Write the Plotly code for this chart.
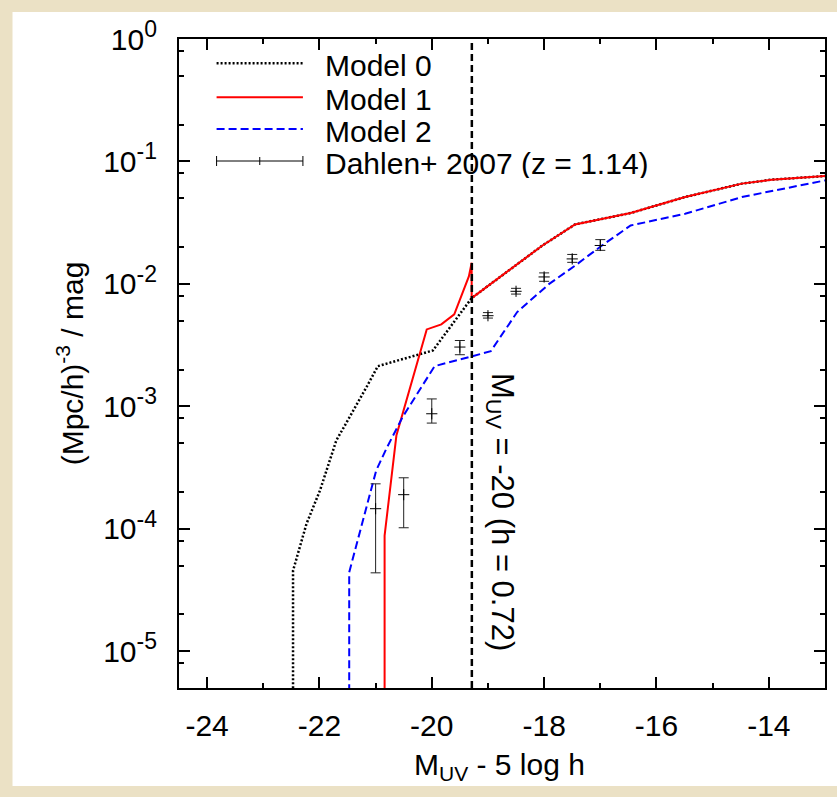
import math
import plotly.graph_objects as go

# ---- UV luminosity function data -------------------------------------------
# Model 0 (black dotted)
M0_X = [-22.47, -22.47, -22.23, -21.99, -21.70, -21.46, -21.16, -20.96, -19.98, -19.29,
        -19.29, -18.03, -17.45, -16.46, -15.49, -14.48, -13.95, -13.0]
M0_PHI = [1e-7, 4.55e-5, 1.10e-4, 2.06e-4, 5.26e-4, 8.17e-4, 1.44e-3, 2.13e-3, 2.86e-3, 7.66e-3,
          7.66e-3, 2.06e-2, 3.06e-2, 3.79e-2, 5.12e-2, 6.59e-2, 7.10e-2, 7.60e-2]

# Model 1 (red solid)
M1_X = [-20.84, -20.84, -20.63, -20.09, -19.83, -19.60, -19.34, -19.29,
        -19.29, -18.03, -17.45, -16.46, -15.49, -14.48, -13.95, -13.0]
M1_PHI = [1e-7, 8.8e-5, 5.78e-4, 4.25e-3, 4.67e-3, 5.64e-3, 1.15e-2, 1.49e-2,
          7.66e-3, 2.06e-2, 3.06e-2, 3.79e-2, 5.12e-2, 6.59e-2, 7.10e-2, 7.60e-2]

# Model 2 (blue dashed)
M2_X = [-21.47, -21.47, -20.99, -20.81, -20.52, -19.95, -19.29, -18.95, -18.48,
        -17.91, -17.44, -16.97, -16.46, -15.49, -14.48, -13.0]
M2_PHI = [1e-7, 4.42e-5, 2.99e-4, 4.5e-4, 8.17e-4, 2.13e-3, 2.56e-3, 2.82e-3, 5.89e-3,
          1.0e-2, 1.42e-2, 2.06e-2, 3.0e-2, 3.74e-2, 5.12e-2, 7.0e-2]

# Dahlen et al. 2007, z = 1.14
OBS_X = [-21.0, -20.5, -20.0, -19.5, -19.0, -18.5, -18.0, -17.5, -17.0]
OBS_PHI = [1.46e-4, 1.9e-4, 8.7e-4, 3.05e-3, 5.5e-3, 8.7e-3, 1.14e-2, 1.6e-2, 2.06e-2]
OBS_HI = [2.33e-4, 2.61e-4, 1.15e-3, 3.45e-3, 5.83e-3, 9.2e-3, 1.23e-2, 1.74e-2, 2.3e-2]
OBS_LO = [4.37e-5, 1.02e-4, 7.3e-4, 2.64e-3, 5.26e-3, 8.26e-3, 1.05e-2, 1.5e-2, 1.88e-2]

# Magnitude cut
M_UV_CUT = -20.0
H_LITTLE = 0.72
CUT_X = M_UV_CUT - 5 * math.log10(H_LITTLE)

# Axis ticks
X_TICKS = [-24, -22, -20, -18, -16, -14]
X_TICKTEXT = ["-24", "-22", "-20", "-18", "-16", "-14"]
X_MINOR = [-23, -21, -19, -17, -15]
Y_TICKS = [1e-5, 1e-4, 1e-3, 1e-2, 1e-1, 1]
Y_EXPONENTS = ["-5", "-4", "-3", "-2", "-1", "0"]
Y_MINOR = [m * 10.0 ** e for e in range(-6, 0) for m in (2, 5, 8)]

LEGEND_LABELS = ["Model 0", "Model 1", "Model 2", "Dahlen+ 2007 (z = 1.14)"]

FONT = "Liberation Sans, Arial, Helvetica, sans-serif"
W, H = 837, 797
L, R, T, B = 179, 10, 39, 109
PW, PH = W - L - R, H - T - B

Y_TICKTEXT = ["10<sup><span style='font-size:23px'>%s</span></sup>" % e for e in Y_EXPONENTS]


def px(xp):
    return (xp - L) / PW


def py(yp):
    return (H - B - yp) / PH


DOT = dict(color="black", width=2.5, dash="2px,2px")
RED = dict(color="#ff0000", width=2)
BLUE = dict(color="#0000ff", width=2, dash="8px,4px")

fig = go.Figure()

fig.add_trace(go.Scatter(x=M0_X, y=M0_PHI, mode="lines", line=DOT, showlegend=False))
fig.add_trace(go.Scatter(x=M1_X, y=M1_PHI, mode="lines", line=RED, showlegend=False))
fig.add_trace(go.Scatter(x=M2_X, y=M2_PHI, mode="lines", line=BLUE, showlegend=False))

plus = [h - v for h, v in zip(OBS_HI, OBS_PHI)]
minus = [v - l for l, v in zip(OBS_LO, OBS_PHI)]
fig.add_trace(go.Scatter(
    x=OBS_X, y=OBS_PHI, mode="markers",
    marker=dict(symbol="cross-thin", size=8, line=dict(color="black", width=1)),
    error_y=dict(type="data", symmetric=False, array=plus, arrayminus=minus,
                 color="#222222", thickness=1, width=5),
    showlegend=False))

shapes = []
# white page behind the chart
shapes.append(dict(type="rect", xref="paper", yref="paper", layer="below",
                   x0=px(12), x1=px(840), y0=py(786), y1=py(12),
                   fillcolor="white", line=dict(width=0)))
# vertical cut line
shapes.append(dict(type="line", xref="x", yref="paper", x0=CUT_X, x1=CUT_X, y0=0, y1=1,
                   line=dict(color="black", width=2.5, dash="7px,4px")))

# hand-built key
rows = [63.3, 97.3, 129.0, 161.0]
lx0, lx1, tx = 216.7, 303.3, 324
styles = [DOT, RED, BLUE, dict(color="black", width=1)]
for r, st in zip(rows, styles):
    shapes.append(dict(type="line", xref="paper", yref="paper",
                       x0=px(lx0), x1=px(lx1), y0=py(r), y1=py(r), line=st))
r = rows[3]
for xx, hh in [(lx0, 5), (lx1, 5), ((lx0 + lx1) / 2, 4)]:
    shapes.append(dict(type="line", xref="paper", yref="paper",
                       x0=px(xx), x1=px(xx), y0=py(r - hh), y1=py(r + hh),
                       line=dict(color="black", width=1)))

annotations = []
for r, lab in zip(rows, LEGEND_LABELS):
    annotations.append(dict(xref="paper", yref="paper", x=px(tx), y=py(r + 2),
                            text=lab, showarrow=False, xanchor="left", yanchor="middle",
                            height=30, borderpad=0,
                            font=dict(family=FONT, size=30, color="black")))

annotations.append(dict(xref="paper", yref="paper", x=px(501), y=py(512),
                        text="M<sub>UV</sub> = -20 (h = 0.72)", textangle=90,
                        showarrow=False, xanchor="center", yanchor="middle",
                        font=dict(family=FONT, size=31, color="black")))
annotations.append(dict(xref="paper", yref="paper", x=px(500), y=py(766),
                        text="M<sub>UV</sub> - 5 log h", showarrow=False,
                        xanchor="center", yanchor="middle",
                        font=dict(family=FONT, size=30, color="black")))
annotations.append(dict(xref="paper", yref="paper", x=px(70), y=py(363),
                        text="(Mpc/h)<sup>-3</sup> / mag", textangle=-90, showarrow=False,
                        xanchor="center", yanchor="middle",
                        font=dict(family=FONT, size=30, color="black")))

axis_common = dict(showgrid=False, zeroline=False, showline=True, linecolor="black",
                   linewidth=2, mirror="ticks", ticks="inside", ticklen=11, tickwidth=1.5,
                   tickcolor="black",
                   tickfont=dict(family=FONT, size=30, color="black"))

fig.update_layout(
    width=W, height=H,
    margin=dict(l=L, r=R, t=T, b=B),
    paper_bgcolor="#ebe1c5",
    plot_bgcolor="white",
    showlegend=False,
    shapes=shapes,
    annotations=annotations,
    xaxis=dict(range=[-24.5, -13], tickvals=X_TICKS, ticktext=X_TICKTEXT,
               ticklabelstandoff=10,
               minor=dict(tickvals=X_MINOR, ticks="inside", ticklen=5, tickwidth=1.5,
                          tickcolor="black"),
               **axis_common),
    yaxis=dict(type="log", range=[-5.3, 0], tickvals=Y_TICKS, ticktext=Y_TICKTEXT,
               ticklabelstandoff=14,
               minor=dict(tickvals=Y_MINOR, ticks="inside", ticklen=5, tickwidth=1.5,
                          tickcolor="black"),
               **axis_common),
)

fig.write_html("out.html", config={"displayModeBar": False})
